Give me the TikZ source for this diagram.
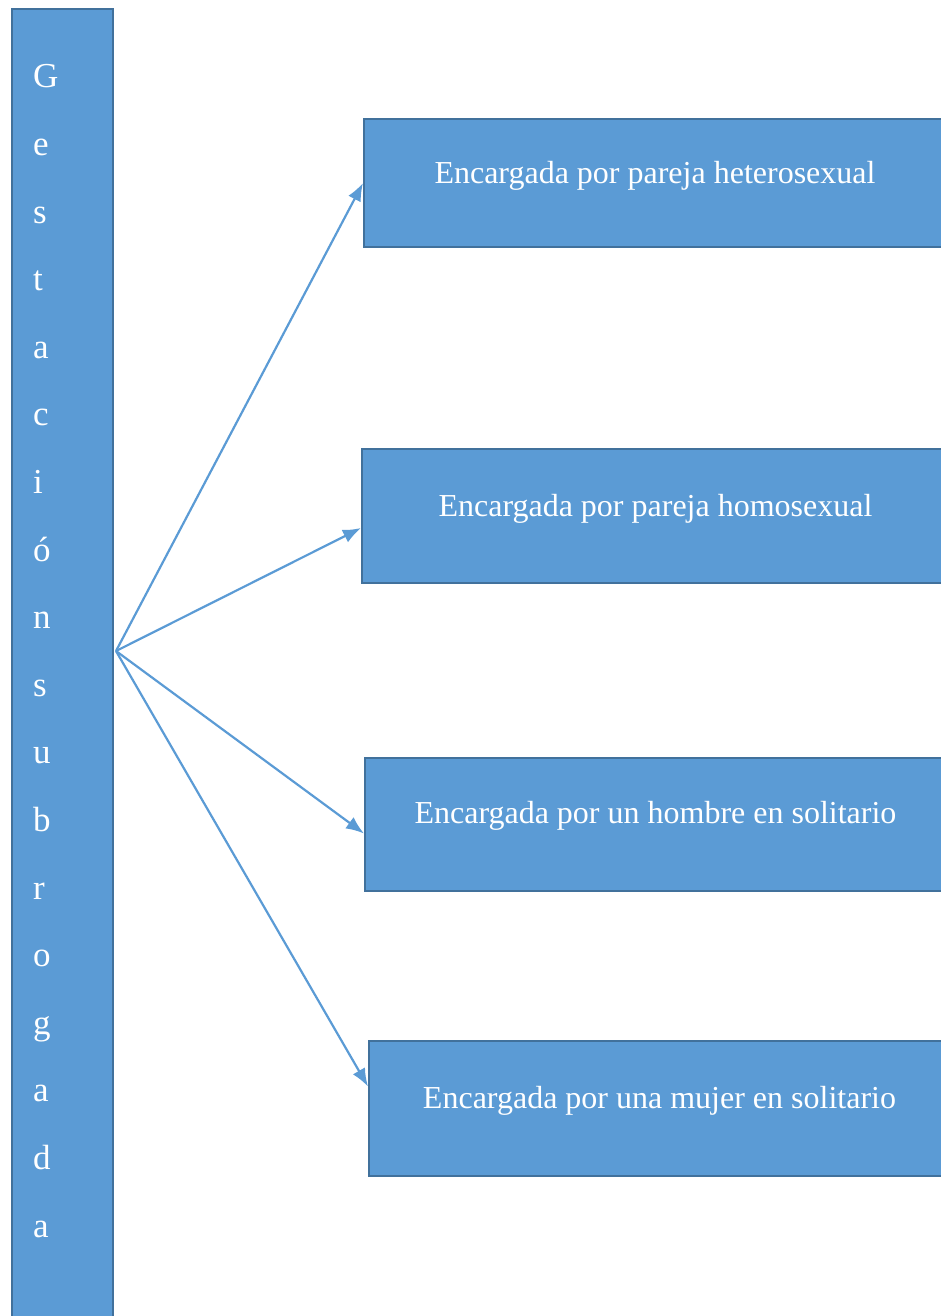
\documentclass[tikz,border=0pt]{standalone}
\usepackage{fontspec}
\setmainfont{Liberation Serif}
\usetikzlibrary{positioning}
\usetikzlibrary{calc}
\usetikzlibrary{arrows.meta}

\definecolor{boxblue}{HTML}{5B9BD5}
\definecolor{boxedge}{HTML}{41719C}

\begin{document}
\begin{tikzpicture}[%
    x=1pt, y=-1pt,
    barnode/.style={rectangle, anchor=north west, fill=boxblue, draw=boxedge, line width=2pt, minimum width=101pt, minimum height=1322pt},
    boxnode/.style={rectangle, anchor=north west, align=center, fill=boxblue, draw=boxedge, line width=2pt, inner ysep=0pt, text=white, font=\fontsize{32}{38}\selectfont},
    lettertext/.style={anchor=base west, align=left, inner sep=0pt, text=white, font=\fontsize{35}{67.6}\selectfont},
    arrowline/.style={draw=boxblue, line width=2.2pt, -{Latex[length=18pt,width=14pt]}},
]
\clip (0,0) rectangle (941,1316);

% Bar
\node[barnode]     (bar)     at (11,8) {};
\node[lettertext]  (letters) at (33,1237) {G\\e\\s\\t\\a\\c\\i\\ó\\n\\s\\u\\b\\r\\o\\g\\a\\d\\a};
\coordinate (hub) at (116,651);

% Box Nodes
\node[boxnode, minimum width=582pt, text height=64pt, text depth=64pt]   (heterosexual) at (363,118)  {Encargada por pareja heterosexual};

\node[boxnode, minimum width=587pt, text height=67pt, text depth=67pt]   (homosexual)   at (361,448)  {Encargada por pareja homosexual};

\node[boxnode, minimum width=581pt, text height=65pt, text depth=68pt]   (hombre)       at (364,757)  {Encargada por un hombre en solitario};

\node[boxnode, minimum width=581pt, text height=67pt, text depth=68pt]   (mujer)        at (368,1040) {Encargada por una mujer en solitario};

% Lines
\draw[arrowline] (hub) -- (heterosexual.west);
\draw[arrowline] (hub) -- ($(homosexual.west)+(0,12)$);
\draw[arrowline] (hub) -- ($(hombre.west)+(0,9)$);
\draw[arrowline] (hub) -- ($(mujer.west)+(0,-22)$);

\end{tikzpicture}
\end{document}
